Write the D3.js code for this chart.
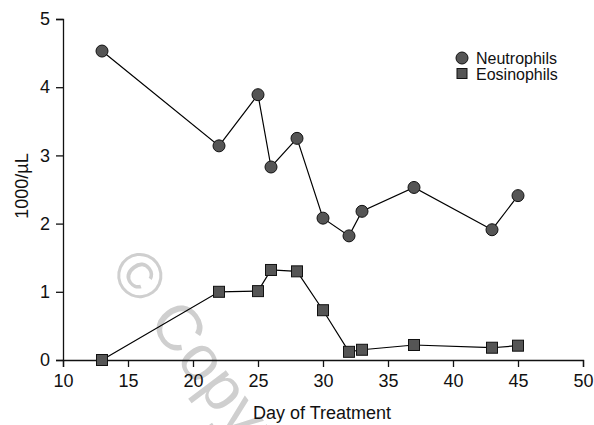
<!DOCTYPE html>
<html>
<head>
<meta charset="utf-8">
<script src="https://cdn.jsdelivr.net/npm/d3@7"></script>
<style>
  body { margin: 0; background: #fff; }
  svg text { font-family: "Liberation Sans", Arial, sans-serif; }
</style>
</head>
<body>
<svg id="chart"></svg>
<script>
// Dados
const days = [13, 22, 25, 26, 28, 30, 32, 33, 37, 43, 45];
const neutrophils = [4.53, 3.14, 3.89, 2.83, 3.25, 2.08, 1.82, 2.18, 2.53, 1.91, 2.41];
const eosinophils = [0.0, 1.0, 1.01, 1.32, 1.30, 0.73, 0.12, 0.15, 0.22, 0.18, 0.21];
const xTicks = [10, 15, 20, 25, 30, 35, 40, 45, 50];
const yTicks = [0, 1, 2, 3, 4, 5];
const seriesNames = ["Neutrophils", "Eosinophils"];

const width = 594;
const height = 425;
const margin = { top: 19, right: 11, bottom: 65, left: 63 };

const svg = d3.select("#chart")
  .attr("width", width)
  .attr("height", height);

const x = d3.scaleLinear()
  .domain([10, 50])
  .range([margin.left, width - margin.right]);

const y = d3.scaleLinear()
  .domain([0, 5])
  .range([height - margin.bottom, margin.top]);

// marca d'água
svg.append("text")
  .attr("transform", "translate(108,270) rotate(53)")
  .attr("font-size", 64)
  .attr("fill", "#cfcfcf")
  .text("© Copyright");

const neut = days.map((d, i) => ({ day: d, v: neutrophils[i] }));
const eos = days.map((d, i) => ({ day: d, v: eosinophils[i] }));

// eixo Y
const yAxis = svg.append("g")
  .attr("transform", `translate(${margin.left},0)`)
  .call(d3.axisLeft(y).tickValues(yTicks).tickFormat(d3.format("d"))
    .tickSizeOuter(0).tickSize(7).tickPadding(6));

// eixo X
const xAxis = svg.append("g")
  .attr("transform", `translate(0,${height - margin.bottom})`)
  .call(d3.axisBottom(x).tickValues(xTicks).tickFormat(d3.format("d"))
    .tickSizeOuter(0).tickSize(7).tickPadding(7));

[xAxis, yAxis].forEach(a => {
  a.selectAll("text")
    .attr("font-size", 18)
    .attr("font-family", "Liberation Sans, Arial, sans-serif")
    .attr("fill", "#111");
  a.selectAll("line, path").attr("stroke", "#111").attr("stroke-width", 1.3);
});

// títulos
svg.append("text")
  .attr("x", 322)
  .attr("y", 419)
  .attr("text-anchor", "middle")
  .attr("font-size", 18)
  .attr("fill", "#111")
  .text("Day of Treatment");

svg.append("text")
  .attr("transform", `translate(28,186) rotate(-90)`)
  .attr("text-anchor", "middle")
  .attr("font-size", 18)
  .attr("fill", "#111")
  .text("1000/µL");

const line = d3.line()
  .x(d => x(d.day))
  .y(d => y(d.v));

svg.append("path")
  .datum(neut)
  .attr("fill", "none")
  .attr("stroke", "#000")
  .attr("stroke-width", 1.2)
  .attr("d", line);

svg.append("path")
  .datum(eos)
  .attr("fill", "none")
  .attr("stroke", "#000")
  .attr("stroke-width", 1.2)
  .attr("d", line);

svg.selectAll("circle.neut")
  .data(neut)
  .enter()
  .append("circle")
  .attr("class", "neut")
  .attr("cx", d => x(d.day))
  .attr("cy", d => y(d.v))
  .attr("r", 6)
  .attr("fill", "#555")
  .attr("stroke", "#111")
  .attr("stroke-width", 1);

const sq = 11;
svg.selectAll("rect.eos")
  .data(eos)
  .enter()
  .append("rect")
  .attr("class", "eos")
  .attr("x", d => x(d.day) - sq / 2)
  .attr("y", d => y(d.v) - sq / 2)
  .attr("width", sq)
  .attr("height", sq)
  .attr("fill", "#555")
  .attr("stroke", "#111")
  .attr("stroke-width", 1);

// legenda
const legend = svg.append("g").attr("transform", "translate(462,58)");
legend.append("circle")
  .attr("cx", 0).attr("cy", 0).attr("r", 6)
  .attr("fill", "#555").attr("stroke", "#111");
legend.append("rect")
  .attr("x", -5).attr("y", 10.5).attr("width", 10).attr("height", 10)
  .attr("fill", "#555").attr("stroke", "#111");
legend.selectAll("text")
  .data(seriesNames)
  .enter()
  .append("text")
  .attr("x", 14)
  .attr("y", (d, i) => i * 16 + 5.5)
  .attr("font-size", 16)
  .attr("fill", "#111")
  .text(d => d);
</script>
</body>
</html>
